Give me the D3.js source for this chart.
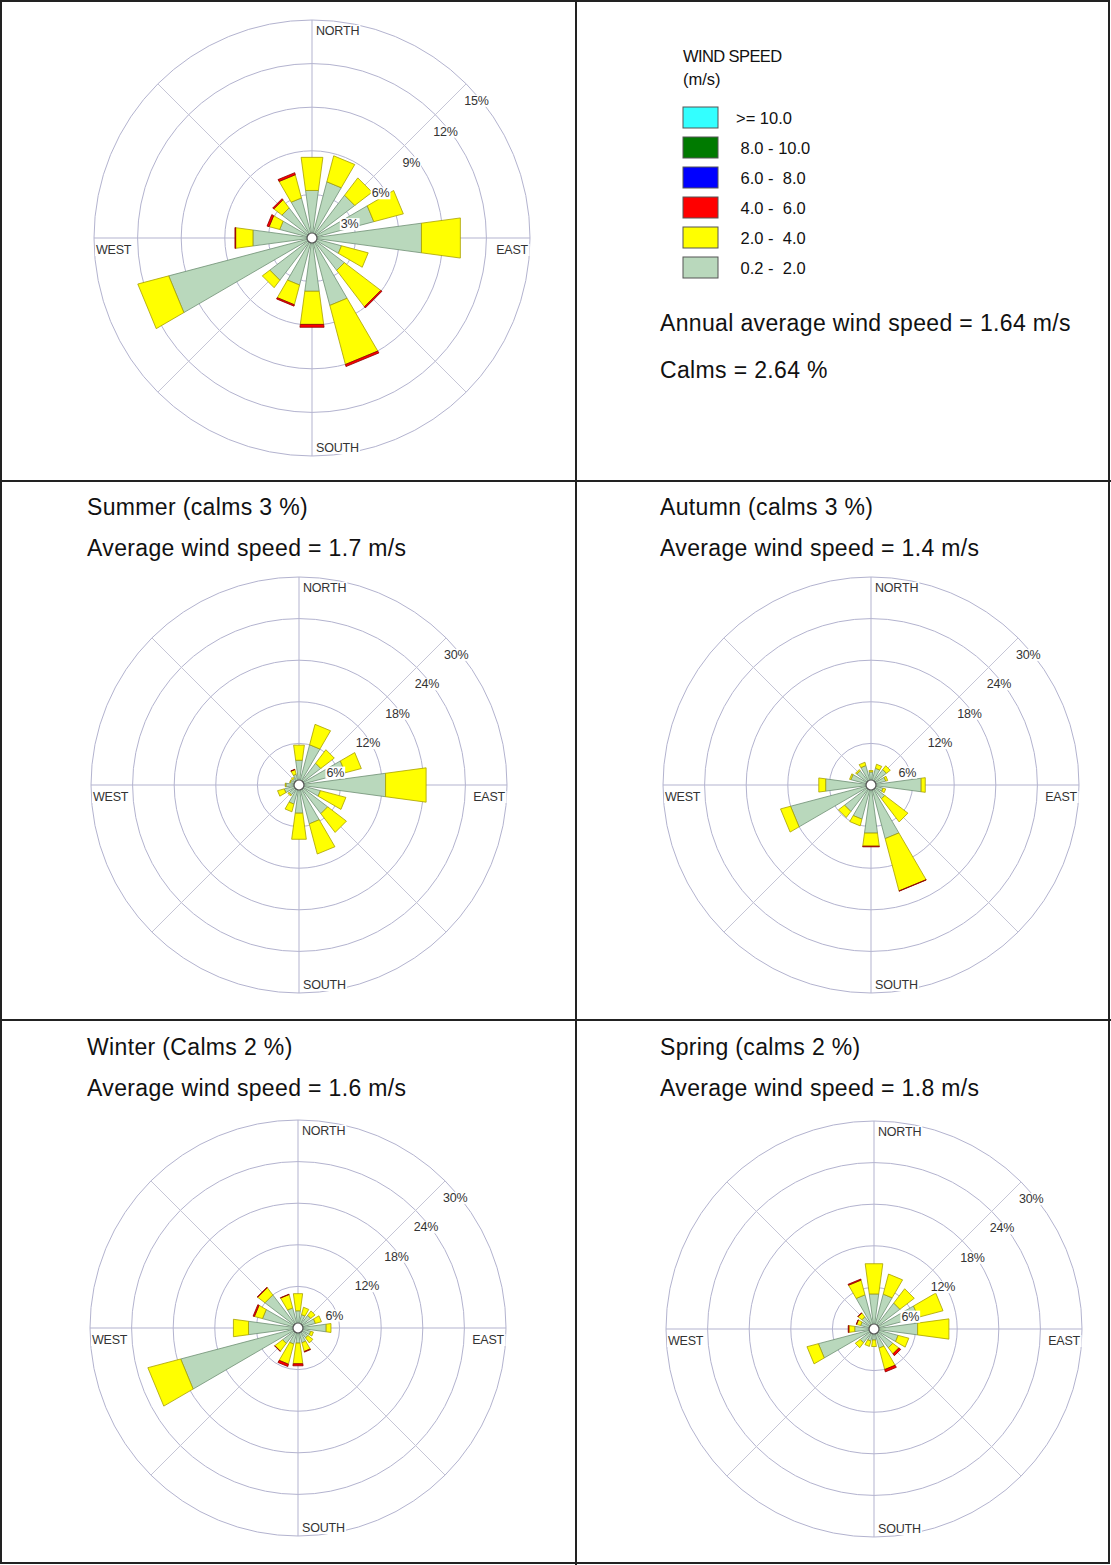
<!DOCTYPE html>
<html>
<head>
<meta charset="utf-8">
<script src="https://cdn.jsdelivr.net/npm/d3@7"></script>
<style>
  html, body { margin: 0; padding: 0; background: #fff; }
  svg { display: block; font-family: "Liberation Sans", Arial, sans-serif; }
  .pre { white-space: pre; }
</style>
</head>
<body>
<svg id="chart" width="1111" height="1565"></svg>
<script>
// ---- Data -------------------------------------------------------------
const directions = ["N","NNE","NE","ENE","E","ESE","SE","SSE","S","SSW","SW","WSW","W","WNW","NW","NNW"];

// Speed classes (m/s), lowest first
const speedClasses = [" 0.2 -  2.0", " 2.0 -  4.0", " 4.0 -  6.0", " 6.0 -  8.0", " 8.0 - 10.0", ">= 10.0"];

// Frequency (%) per direction, for classes 0.2-2.0, 2.0-4.0, 4.0-6.0 m/s
const annualFreq = [
  [3.3, 2.3, 0], [4.0, 1.85, 0], [3.7, 1.5, 0], [4.4, 2.1, 0],
  [7.6, 2.7, 0], [2.1, 1.9, 0], [2.8, 3.15, 0.1], [4.8, 4.2, 0.15],
  [3.7, 2.3, 0.2], [3.35, 1.4, 0.1], [3.65, 0.65, 0], [10.2, 2.2, 0],
  [4.1, 1.2, 0.05], [2.3, 0.75, 0.15], [2.6, 0.7, 0.1], [2.85, 1.65, 0.15]
];
const summerFreq = [
  [3.6, 2.2, 0], [6.0, 3.05, 0], [3.95, 2.45, 0], [6.9, 2.4, 0],
  [12.6, 5.9, 0], [3.2, 3.8, 0], [5.2, 3.4, 0], [5.8, 4.5, 0],
  [4.1, 3.8, 0], [2.85, 1.15, 0], [1.8, 0.2, 0], [2.2, 1.0, 0],
  [1.9, 0.1, 0], [1.3, 0.1, 0], [1.2, 0.2, 0], [1.6, 0.7, 0.05]
];
const autumnFreq = [
  [1.9, 0.2, 0], [2.5, 0.6, 0], [2.8, 0.7, 0], [2.2, 0.3, 0],
  [7.3, 0.6, 0], [1.8, 0.4, 0], [2.5, 4.2, 0], [8.0, 7.8, 0.05],
  [7.0, 1.9, 0.1], [5.1, 1.0, 0], [4.8, 1.1, 0], [12.0, 1.5, 0],
  [6.6, 1.0, 0], [3.0, 0.2, 0], [2.6, 0.2, 0], [2.9, 0.5, 0]
];
const winterFreq = [
  [2.5, 2.5, 0], [2.0, 1.1, 0], [2.3, 0.8, 0], [2.6, 0.9, 0],
  [4.1, 0.7, 0], [1.9, 0.4, 0], [1.8, 0.9, 0], [2.2, 1.3, 0.1],
  [2.2, 3.0, 0.3], [2.4, 3.0, 0.35], [2.8, 1.4, 0.05], [17.5, 4.9, 0],
  [7.2, 2.2, 0], [5.3, 1.2, 0.2], [6.0, 1.3, 0.1], [3.0, 2.0, 0.05]
];
const springFreq = [
  [5.1, 4.4, 0], [5.2, 3.0, 0], [4.7, 2.6, 0], [6.6, 3.7, 0],
  [6.35, 4.55, 0], [3.6, 1.6, 0], [3.4, 1.1, 0.35], [2.85, 3.2, 0.35],
  [1.6, 0.95, 0], [1.8, 0.8, 0], [2.5, 0.9, 0], [8.3, 1.7, 0],
  [2.8, 0.85, 0.1], [2.0, 0.6, 0.05], [2.2, 0.7, 0.05], [5.1, 2.2, 0.15]
];

const annualTicks = [3, 6, 9, 12, 15];
const seasonTicks = [6, 12, 18, 24, 30];

const seasonTitles = ["Summer (calms 3 %)", "Autumn (calms 3 %)", "Winter (Calms 2 %)", "Spring (calms 2 %)"];
const seasonSpeeds = ["Average wind speed = 1.7 m/s", "Average wind speed = 1.4 m/s",
                      "Average wind speed = 1.6 m/s", "Average wind speed = 1.8 m/s"];
const annualNotes = ["Annual average wind speed = 1.64 m/s", "Calms = 2.64 %"];
const compassLabels = ["NORTH", "EAST", "SOUTH", "WEST"];

// ---- Styles -----------------------------------------------------------
const classFill   = ["#b9d8bc", "#ffff00", "#ff0000", "#0000ff", "#007a00", "#33ffff"];
const classStroke = ["#6f8f74", "#a8a000", "#8a0000", "#00006a", "#004000", "#009a9a"];

const svg = d3.select("#chart");
svg.append("rect").attr("width", 1111).attr("height", 1565).attr("fill", "#fff");

// ---- Wind rose --------------------------------------------------------
const halfWidth = 7.7 * Math.PI / 180;

function labelWithBg(g, x, y, text, anchor, size) {
  const t = g.append("text")
    .attr("x", x).attr("y", y)
    .attr("text-anchor", anchor)
    .attr("font-size", size)
    .attr("letter-spacing", -0.2)
    .attr("fill", "#333")
    .text(text);
  const b = t.node().getBBox();
  g.insert("rect", () => t.node())
    .attr("x", b.x - 1).attr("y", b.y + 1)
    .attr("width", b.width + 2).attr("height", b.height - 2)
    .attr("fill", "#fff");
}

function drawRose(cfg) {
  const g = svg.append("g").attr("transform", `translate(${cfg.cx},${cfg.cy})`);
  const maxTick = d3.max(cfg.ticks);
  const r = d3.scaleLinear().domain([0, maxTick]).range([0, cfg.R]);
  const angle = d3.scaleLinear().domain([0, directions.length]).range([0, 2 * Math.PI]);

  // rings
  g.selectAll("circle.ring").data(cfg.ticks).join("circle")
    .attr("class", "ring")
    .attr("r", d => r(d))
    .attr("fill", "none")
    .attr("stroke", "#b3b3cf")
    .attr("stroke-width", 1);

  // spokes every 45 degrees
  g.selectAll("line.spoke").data(d3.range(8)).join("line")
    .attr("class", "spoke")
    .attr("x1", 0).attr("y1", 0)
    .attr("x2", d => d3.pointRadial(d * Math.PI / 4, cfg.R)[0])
    .attr("y2", d => d3.pointRadial(d * Math.PI / 4, cfg.R)[1])
    .attr("stroke", d => d % 2 === 0 ? "#b3b3cf" : "#c6c6d6")
    .attr("stroke-width", 1);

  // petals
  const segs = [];
  cfg.data.forEach((vals, i) => {
    let c = 0;
    vals.forEach((v, k) => {
      if (v > 0) segs.push({ i, k, r0: c, r1: c + v });
      c += v;
    });
  });
  g.selectAll("path.seg").data(segs).join("path")
    .attr("class", "seg")
    .attr("d", s => {
      const a = angle(s.i);
      const pts = [
        d3.pointRadial(a - halfWidth, r(s.r0)),
        d3.pointRadial(a + halfWidth, r(s.r0)),
        d3.pointRadial(a + halfWidth, r(s.r1)),
        d3.pointRadial(a - halfWidth, r(s.r1))
      ];
      return d3.line()(pts) + "Z";
    })
    .attr("fill", s => classFill[s.k])
    .attr("stroke", s => classStroke[s.k])
    .attr("stroke-width", 0.8)
    .attr("stroke-linejoin", "round");

  // calm circle
  g.append("circle").attr("r", 5)
    .attr("fill", "#fff").attr("stroke", "#555").attr("stroke-width", 1.2);

  // ring labels along the NE diagonal
  cfg.ticks.forEach(t => {
    const d = r(t) * Math.SQRT1_2;
    labelWithBg(g, d - 2, -d + 21, t + "%", "start", 12.5);
  });

  // compass labels
  labelWithBg(g, 4, -cfg.R + 15, compassLabels[0], "start", 12.5);
  labelWithBg(g, cfg.R - 2, 16, compassLabels[1], "end", 12.5);
  labelWithBg(g, 4, cfg.R - 4, compassLabels[2], "start", 12.5);
  labelWithBg(g, -cfg.R + 2, 16, compassLabels[3], "start", 12.5);
}

drawRose({ cx: 312, cy: 238, R: 218, ticks: annualTicks, data: annualFreq });

const seasonLayout = [
  { cx: 299, cy: 785, tx: 87,  ty: 515 },
  { cx: 871, cy: 785, tx: 660, ty: 515 },
  { cx: 298, cy: 1328, tx: 87,  ty: 1055 },
  { cx: 874, cy: 1329, tx: 660, ty: 1055 }
];
const seasonData = [summerFreq, autumnFreq, winterFreq, springFreq];

seasonLayout.forEach((p, i) => {
  drawRose({ cx: p.cx, cy: p.cy, R: 208, ticks: seasonTicks, data: seasonData[i] });
  svg.append("text").attr("x", p.tx).attr("y", p.ty)
    .attr("font-size", 23).attr("letter-spacing", 0.35).attr("fill", "#111")
    .text(seasonTitles[i]);
  svg.append("text").attr("x", p.tx).attr("y", p.ty + 41)
    .attr("font-size", 23).attr("letter-spacing", 0.35).attr("fill", "#111")
    .text(seasonSpeeds[i]);
});

// ---- Legend -----------------------------------------------------------
const legend = svg.append("g");
legend.append("text").attr("x", 683).attr("y", 62)
  .attr("font-size", 16.5).attr("letter-spacing", -0.6).attr("fill", "#111").text("WIND SPEED");
legend.append("text").attr("x", 683).attr("y", 85)
  .attr("font-size", 16.5).attr("fill", "#111").text("(m/s)");

const legendOrder = d3.range(speedClasses.length).reverse();
const ly = d3.scaleBand().domain(legendOrder).range([107, 107 + 30 * legendOrder.length]);
legendOrder.forEach(k => {
  legend.append("rect")
    .attr("x", 683).attr("y", ly(k)).attr("width", 35).attr("height", 21)
    .attr("fill", classFill[k]).attr("stroke", "#555").attr("stroke-width", 1);
  legend.append("text")
    .attr("class", "pre")
    .attr("x", 736).attr("y", ly(k) + 16.5)
    .attr("font-size", 16.5).attr("fill", "#111")
    .text(speedClasses[k]);
});

svg.append("text").attr("x", 660).attr("y", 331)
  .attr("font-size", 23).attr("letter-spacing", 0.35).attr("fill", "#111").text(annualNotes[0]);
svg.append("text").attr("x", 660).attr("y", 378)
  .attr("font-size", 23).attr("letter-spacing", 0.35).attr("fill", "#111").text(annualNotes[1]);

// ---- Panel frame ------------------------------------------------------
const frame = svg.append("g").attr("stroke", "#222").attr("stroke-width", 2).attr("fill", "none");
frame.append("rect").attr("x", 1).attr("y", 1).attr("width", 1108).attr("height", 1562);
frame.append("line").attr("x1", 576).attr("y1", 0).attr("x2", 576).attr("y2", 1565);
[481, 1020].forEach(y => frame.append("line").attr("x1", 0).attr("y1", y).attr("x2", 1111).attr("y2", y));
</script>
</body>
</html>
